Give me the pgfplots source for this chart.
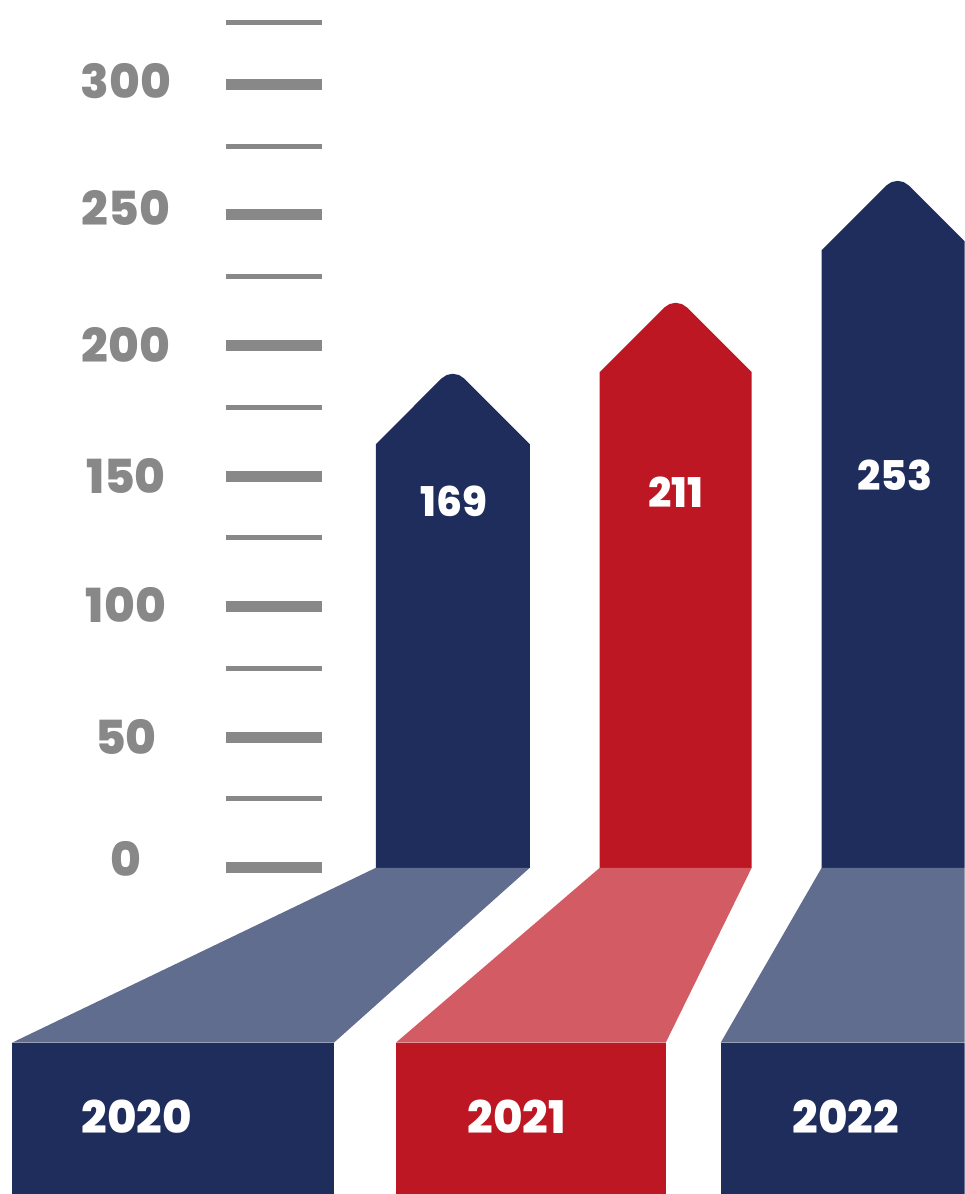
\documentclass[border=0pt]{standalone}
\usepackage{fontspec}
\setmainfont{Poppins}[BoldFont={* ExtraBold}]
\usepackage{pgfplots}
\pgfplotsset{compat=1.18}
\definecolor{navy}{HTML}{1F2D5D}
\definecolor{crimson}{HTML}{BD1723}
\definecolor{lnavy}{HTML}{606D8E}
\definecolor{lred}{HTML}{D35B63}
\definecolor{tgray}{HTML}{888888}
\begin{document}
\begin{tikzpicture}
\begin{axis}[
  x=1bp, y=2.6127bp,
  xmin=0, xmax=965, ymin=-124.9, ymax=332.3,
  hide axis, clip=true,
  unbounded coords=jump,
]
% tick lines (major)
\addplot[draw=tgray, line width=11bp] coordinates {
 (226,0) (322,0) (nan,nan) (226,50) (322,50) (nan,nan)
 (226,100) (322,100) (nan,nan) (226,150) (322,150) (nan,nan)
 (226,200) (322,200) (nan,nan) (226,250) (322,250) (nan,nan)
 (226,300) (322,300)};
% tick lines (minor)
\addplot[draw=tgray, line width=5bp] coordinates {
 (226,26.4) (322,26.4) (nan,nan) (226,76.2) (322,76.2) (nan,nan)
 (226,126.3) (322,126.3) (nan,nan) (226,176.4) (322,176.4) (nan,nan)
 (226,226.6) (322,226.6) (nan,nan) (226,276.3) (322,276.3) (nan,nan)
 (226,323.8) (322,323.8)};
% 2020
\addplot[fill=navy, draw=none] coordinates {
 (376,0) (376,162.2) (441.7,187.38) (446.88,188.7) (453,189.17) (459.12,188.7) (464.3,187.38) (530,162.2) (530,0)};
\addplot[fill=lnavy, draw=none] coordinates {(376,0) (530,0) (334,-66.97) (12,-66.97)};
\addplot[fill=navy, draw=none] coordinates {(12,-66.97) (334,-66.97) (334,-125) (12,-125)};
% 2021
\addplot[fill=crimson, draw=none] coordinates {
 (600,0) (600,189.8) (664.7,214.56) (669.88,215.88) (676,216.35) (682.12,215.88) (687.3,214.56) (752,189.8) (752,0)};
\addplot[fill=lred, draw=none] coordinates {(600,0) (752,0) (666,-66.97) (396,-66.97)};
\addplot[fill=crimson, draw=none] coordinates {(396,-66.97) (666,-66.97) (666,-125) (396,-125)};
% 2022
\addplot[fill=navy, draw=none] coordinates {
 (822,0) (822,236.5) (886.7,261.25) (891.88,262.57) (898,263.04) (904.12,262.57) (909.3,261.25) (974,236.5) (974,0)};
\addplot[fill=lnavy, draw=none] coordinates {(822,0) (980,0) (980,-66.97) (721,-66.97)};
\addplot[fill=navy, draw=none] coordinates {(721,-66.97) (980,-66.97) (980,-125) (721,-125)};
% tick labels
\foreach \v/\o in {0/3.4,50/0.2,100/0.8,150/0,200/0.2,250/2.5,300/1.3} {
  \edef\tmp{\noexpand\node[anchor=center, text=tgray, font=\noexpand\fontsize{47bp}{47bp}\noexpand\selectfont\noexpand\bfseries] at (axis cs:126,\v+\o) {\v};}
  \tmp
}
% value labels
\node[text=white, font=\fontsize{41bp}{41bp}\selectfont\bfseries] at (axis cs:454,140.4) {169};
\node[text=white, font=\fontsize{41bp}{41bp}\selectfont\bfseries] at (axis cs:676,143.9) {211};
\node[text=white, font=\fontsize{41bp}{41bp}\selectfont\bfseries] at (axis cs:895,150.4) {253};
% year labels
\node[text=white, font=\fontsize{45bp}{45bp}\selectfont\bfseries] at (axis cs:137,-95.28) {2020};
\node[text=white, font=\fontsize{45bp}{45bp}\selectfont\bfseries] at (axis cs:517,-95.28) {2021};
\node[text=white, font=\fontsize{45bp}{45bp}\selectfont\bfseries] at (axis cs:846,-95.28) {2022};
\end{axis}
\pgfresetboundingbox
\path (current axis.south west) rectangle (current axis.north east);
\end{tikzpicture}
\end{document}
